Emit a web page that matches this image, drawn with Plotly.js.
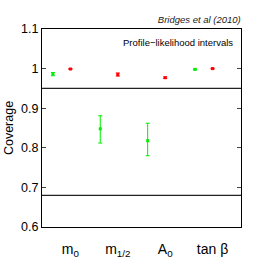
<!DOCTYPE html>
<html><head><meta charset="utf-8">
<script src="https://cdn.plot.ly/plotly-3.0.1.min.js"></script>
<style>body{margin:0;background:#fff}#c{width:266px;height:266px}</style>
</head><body><div id="c"></div>
<script>
const categories = ['m<sub>0</sub>', 'm<sub>1/2</sub>', 'A<sub>0</sub>', 'tan β'];
const catIndex = [1, 2, 3, 4];
const greenCov = [0.986, 0.848, 0.818, 0.998];
const greenErrPlus = [0.004, 0.033, 0.044, 0.001];
const greenErrMinus = [0.004, 0.036, 0.038, 0.001];
const redCov = [0.999, 0.985, 0.977, 1.0];
const redErr = [0.001, 0.004, 0.002, 0.001];
const refLines = [0.95, 0.68];
const yTicks = [0.6, 0.7, 0.8, 0.9, 1, 1.1];
const yTickText = ['0.6', '0.7', '0.8', '0.9', '1', '1.1'];

const greenX = catIndex.map(v => v - 0.37);
const redX = catIndex.map(v => v);

const traces = [
  {x: greenX, y: greenCov, type: 'scatter', mode: 'markers',
   marker: {color: '#00ee00', size: 3, symbol: 'square'},
   error_y: {type: 'data', symmetric: false, array: greenErrPlus, arrayminus: greenErrMinus, color: '#00ee00', thickness: 1, width: 2}},
  {x: redX, y: redCov, type: 'scatter', mode: 'markers',
   marker: {color: '#ff0000', size: 3, symbol: 'square'},
   error_y: {type: 'data', array: redErr, color: '#ff0000', thickness: 1, width: 2}}
];

const layout = {
  width: 266, height: 266,
  margin: {l: 42, r: 25, t: 29, b: 39},
  paper_bgcolor: '#fff', plot_bgcolor: '#fff',
  showlegend: false,
  font: {family: 'Liberation Sans, Arial, sans-serif', color: '#000'},
  title: {text: '<i>Bridges et al (2010)</i>', font: {size: 9.5, color: '#222'}, x: 0.905, xanchor: 'right', y: 0.925, yanchor: 'middle'},
  xaxis: {range: [0.4, 4.6], tickvals: catIndex, ticktext: categories, showgrid: false, zeroline: false,
    showline: true, linecolor: '#000', linewidth: 1, mirror: true, ticks: '', tickfont: {size: 14}, ticklabelstandoff: 9},
  yaxis: {range: [0.6, 1.1], tickvals: yTicks, ticktext: yTickText, showgrid: false, zeroline: false,
    showline: true, linecolor: '#000', linewidth: 1, mirror: 'allticks', ticks: 'inside', ticklen: 4, tickfont: {size: 12.5},
    title: {text: 'Coverage', font: {size: 12.5}, standoff: 4}},
  shapes: refLines.map(v => ({type: 'line', xref: 'paper', x0: 0, x1: 1, yref: 'y', y0: v, y1: v, line: {color: '#222', width: 1.2}})),
  annotations: [{text: 'Profile−likelihood intervals', xref: 'paper', yref: 'paper', x: 0.97, y: 0.97, xanchor: 'right', yanchor: 'top', showarrow: false, font: {size: 9.5}}]
};
Plotly.newPlot('c', traces, layout, {staticPlot: true, displayModeBar: false});
</script></body></html>
